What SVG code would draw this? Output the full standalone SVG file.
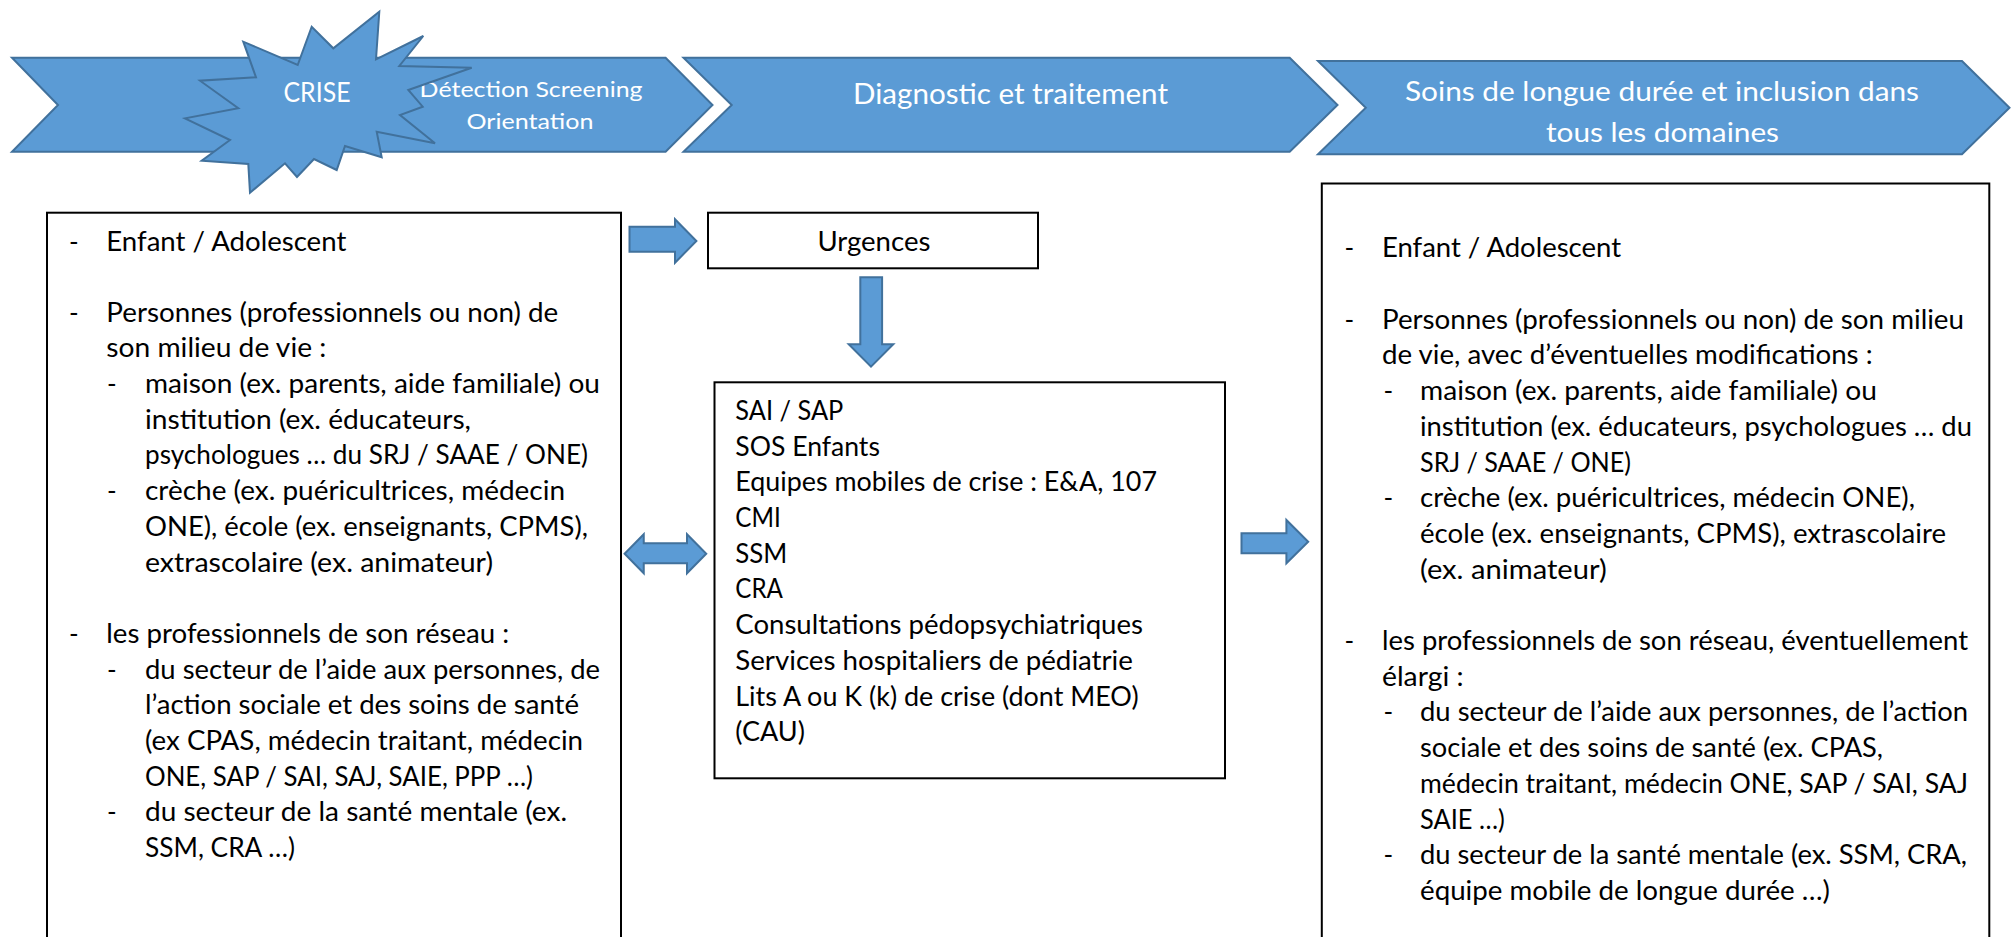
<svg xmlns="http://www.w3.org/2000/svg" width="2011" height="937" viewBox="0 0 2011 937">
<style>
.chev{fill:#5B9BD5;stroke:#41719C;stroke-width:2;stroke-linejoin:miter}
.arr{fill:#5B9BD5;stroke:#41719C;stroke-width:2;stroke-linejoin:miter}
.wt{fill:#FFFFFF;font-family:Lato,"Open Sans","Liberation Sans",sans-serif}
.box{fill:#FFFFFF;stroke:#000000;stroke-width:2}
.t{fill:#000000;font-family:Lato,"Open Sans","Liberation Sans",sans-serif;font-size:26px}
</style>
<rect width="2011" height="937" fill="#FFFFFF"/>
<g id="stage-1">
<polygon class="chev" points="12,57.7 665.6,57.7 712.5,105 665.6,151.7 12,151.7 58,105"/>
<text class="wt" font-size="22" x="419.6" y="96.7" textLength="223" lengthAdjust="spacingAndGlyphs">Détection Screening</text>
<text class="wt" font-size="22" x="466.5" y="129.3" textLength="127" lengthAdjust="spacingAndGlyphs">Orientation</text>
</g>
<g id="stage-2">
<polygon class="chev" points="683.5,57.7 1289.7,57.7 1337.5,105 1289.7,151.7 683.5,151.7 731.7,105"/>
<text class="wt" font-size="28" x="853" y="104" textLength="315" lengthAdjust="spacingAndGlyphs">Diagnostic et traitement</text>
</g>
<g id="stage-3">
<polygon class="chev" points="1318,61 1962,61 2009.5,107.7 1962,154.3 1318,154.3 1365.8,107.7"/>
<text class="wt" font-size="27" x="1405" y="101" textLength="514" lengthAdjust="spacingAndGlyphs">Soins de longue durée et inclusion dans</text>
<text class="wt" font-size="27" x="1546" y="141.7" textLength="233" lengthAdjust="spacingAndGlyphs">tous les domaines</text>
</g>
<g id="crise">
<polygon class="chev" points="379.3,11.7 376,59.3 423.3,36 399.3,66 471.7,67.7 408.3,90 422.7,106.7 400,115 435,143.3 376.7,131.7 381.7,157.3 345,146 336.7,170 314,159 297,177 285,163.3 250,192.7 248.3,164 201.7,160.7 230,140 185,118.3 238.3,108.3 200,80.7 256,77.3 243.3,41.7 297.7,65 311.7,26.7 333.3,48.3"/>
<text class="wt" font-size="26" x="283.5" y="101.7" textLength="67" lengthAdjust="spacingAndGlyphs">CRISE</text>
</g>
<g id="box-left">
<rect class="box" x="47" y="212.7" width="574" height="760"/>
<text class="t" x="69" y="251">-</text>
<text class="t" x="106.3" y="251" textLength="240" lengthAdjust="spacingAndGlyphs">Enfant / Adolescent</text>
<text class="t" x="69" y="321.7">-</text>
<text class="t" x="106.3" y="321.7" textLength="452" lengthAdjust="spacingAndGlyphs">Personnes (professionnels ou non) de</text>
<text class="t" x="106.3" y="357.4" textLength="220" lengthAdjust="spacingAndGlyphs">son milieu de vie :</text>
<text class="t" x="107" y="393">-</text>
<text class="t" x="145" y="393" textLength="455" lengthAdjust="spacingAndGlyphs">maison (ex. parents, aide familiale) ou</text>
<text class="t" x="145" y="428.7" textLength="326" lengthAdjust="spacingAndGlyphs">institution (ex. éducateurs,</text>
<text class="t" x="145" y="464.4" textLength="443" lengthAdjust="spacingAndGlyphs">psychologues … du SRJ / SAAE / ONE)</text>
<text class="t" x="107" y="500">-</text>
<text class="t" x="145" y="500" textLength="420" lengthAdjust="spacingAndGlyphs">crèche (ex. puéricultrices, médecin</text>
<text class="t" x="145" y="535.8" textLength="443" lengthAdjust="spacingAndGlyphs">ONE), école (ex. enseignants, CPMS),</text>
<text class="t" x="145" y="571.5" textLength="348" lengthAdjust="spacingAndGlyphs">extrascolaire (ex. animateur)</text>
<text class="t" x="69" y="643">-</text>
<text class="t" x="106.3" y="643" textLength="403" lengthAdjust="spacingAndGlyphs">les professionnels de son réseau :</text>
<text class="t" x="107" y="678.6">-</text>
<text class="t" x="145" y="678.6" textLength="455" lengthAdjust="spacingAndGlyphs">du secteur de l’aide aux personnes, de</text>
<text class="t" x="145" y="714.3" textLength="434" lengthAdjust="spacingAndGlyphs">l’action sociale et des soins de santé</text>
<text class="t" x="145" y="750" textLength="438" lengthAdjust="spacingAndGlyphs">(ex CPAS, médecin traitant, médecin</text>
<text class="t" x="145" y="785.7" textLength="388" lengthAdjust="spacingAndGlyphs">ONE, SAP / SAI, SAJ, SAIE, PPP …)</text>
<text class="t" x="107" y="821.4">-</text>
<text class="t" x="145" y="821.4" textLength="422" lengthAdjust="spacingAndGlyphs">du secteur de la santé mentale (ex.</text>
<text class="t" x="145" y="857" textLength="150" lengthAdjust="spacingAndGlyphs">SSM, CRA …)</text>
</g>
<g id="box-urgences">
<rect class="box" x="708" y="212.7" width="330" height="55.6"/>
<text class="t" x="817.4" y="251" textLength="113" lengthAdjust="spacingAndGlyphs">Urgences</text>
</g>
<g id="box-middle">
<rect class="box" x="714.5" y="382.3" width="510.5" height="396"/>
<text class="t" x="735.3" y="420" textLength="108" lengthAdjust="spacingAndGlyphs">SAI / SAP</text>
<text class="t" x="735.3" y="455.7" textLength="144.6" lengthAdjust="spacingAndGlyphs">SOS Enfants</text>
<text class="t" x="735.3" y="491.4" textLength="421.7" lengthAdjust="spacingAndGlyphs">Equipes mobiles de crise : E&amp;A, 107</text>
<text class="t" x="735.3" y="527" textLength="45.5" lengthAdjust="spacingAndGlyphs">CMI</text>
<text class="t" x="735.3" y="562.7" textLength="52" lengthAdjust="spacingAndGlyphs">SSM</text>
<text class="t" x="735.3" y="598.4" textLength="47.6" lengthAdjust="spacingAndGlyphs">CRA</text>
<text class="t" x="735.3" y="634" textLength="407.6" lengthAdjust="spacingAndGlyphs">Consultations pédopsychiatriques</text>
<text class="t" x="735.3" y="669.8" textLength="397.6" lengthAdjust="spacingAndGlyphs">Services hospitaliers de pédiatrie</text>
<text class="t" x="735.3" y="705.5" textLength="403.3" lengthAdjust="spacingAndGlyphs">Lits A ou K (k) de crise (dont MEO)</text>
<text class="t" x="735.3" y="741.2" textLength="69.7" lengthAdjust="spacingAndGlyphs">(CAU)</text>
</g>
<g id="box-right">
<rect class="box" x="1321.8" y="183.5" width="667.5" height="790"/>
<text class="t" x="1344.6" y="257.3">-</text>
<text class="t" x="1382" y="257.3" textLength="239" lengthAdjust="spacingAndGlyphs">Enfant / Adolescent</text>
<text class="t" x="1344.6" y="328.7">-</text>
<text class="t" x="1382" y="328.7" textLength="582" lengthAdjust="spacingAndGlyphs">Personnes (professionnels ou non) de son milieu</text>
<text class="t" x="1382" y="364.4" textLength="490.6" lengthAdjust="spacingAndGlyphs">de vie, avec d’éventuelles modifications :</text>
<text class="t" x="1383.5" y="400.1">-</text>
<text class="t" x="1420" y="400.1" textLength="457" lengthAdjust="spacingAndGlyphs">maison (ex. parents, aide familiale) ou</text>
<text class="t" x="1420" y="435.8" textLength="552" lengthAdjust="spacingAndGlyphs">institution (ex. éducateurs, psychologues … du</text>
<text class="t" x="1420" y="471.5" textLength="211" lengthAdjust="spacingAndGlyphs">SRJ / SAAE / ONE)</text>
<text class="t" x="1383.5" y="507.2">-</text>
<text class="t" x="1420" y="507.2" textLength="495" lengthAdjust="spacingAndGlyphs">crèche (ex. puéricultrices, médecin ONE),</text>
<text class="t" x="1420" y="542.9" textLength="526" lengthAdjust="spacingAndGlyphs">école (ex. enseignants, CPMS), extrascolaire</text>
<text class="t" x="1420" y="578.6" textLength="186.7" lengthAdjust="spacingAndGlyphs">(ex. animateur)</text>
<text class="t" x="1344.6" y="650">-</text>
<text class="t" x="1382" y="650" textLength="586" lengthAdjust="spacingAndGlyphs">les professionnels de son réseau, éventuellement</text>
<text class="t" x="1382" y="685.7" textLength="81.5" lengthAdjust="spacingAndGlyphs">élargi :</text>
<text class="t" x="1383.5" y="721.4">-</text>
<text class="t" x="1420" y="721.4" textLength="548" lengthAdjust="spacingAndGlyphs">du secteur de l’aide aux personnes, de l’action</text>
<text class="t" x="1420" y="757.1" textLength="463" lengthAdjust="spacingAndGlyphs">sociale et des soins de santé (ex. CPAS,</text>
<text class="t" x="1420" y="792.8" textLength="548" lengthAdjust="spacingAndGlyphs">médecin traitant, médecin ONE, SAP / SAI, SAJ</text>
<text class="t" x="1420" y="828.5" textLength="84.8" lengthAdjust="spacingAndGlyphs">SAIE …)</text>
<text class="t" x="1383.5" y="864.2">-</text>
<text class="t" x="1420" y="864.2" textLength="547" lengthAdjust="spacingAndGlyphs">du secteur de la santé mentale (ex. SSM, CRA,</text>
<text class="t" x="1420" y="899.9" textLength="410" lengthAdjust="spacingAndGlyphs">équipe mobile de longue durée …)</text>
</g>
<g id="connectors">
<polygon id="arrow-left-urgences" class="arr" points="629.5,226.7 675,226.7 675,219.3 696.4,241 675,262.7 675,251.7 629.5,251.7"/>
<polygon id="arrow-urgences-middle" class="arr" points="860.3,277.3 882.1,277.3 882.1,344.3 893.3,344.3 871,366.7 848.7,344.3 860.3,344.3"/>
<polygon id="arrow-left-middle" class="arr" points="624.6,553.8 643.75,534.3 643.75,543.3 687,543.3 687,534.3 706.25,553.8 687,573.3 687,563.3 643.75,563.3 643.75,573.3"/>
<polygon id="arrow-middle-right" class="arr" points="1241.5,533.3 1286.4,533.3 1286.4,520 1308.2,541.7 1286.4,563.3 1286.4,553.3 1241.5,553.3"/>
</g>
</svg>
